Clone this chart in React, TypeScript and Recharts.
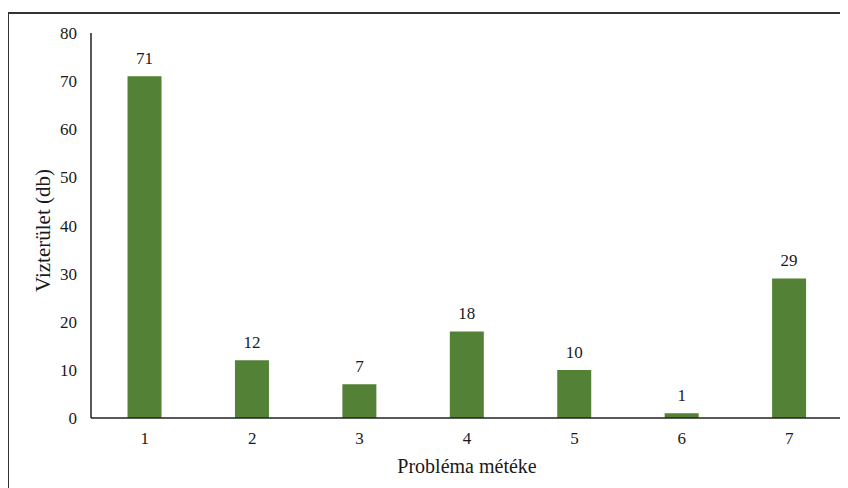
import React from 'react';
import { BarChart, Bar, XAxis, YAxis, LabelList, Label } from 'recharts';

const categories = ['1', '2', '3', '4', '5', '6', '7'];
const counts = [71, 12, 7, 18, 10, 1, 29];
const yTicks = [0, 10, 20, 30, 40, 50, 60, 70, 80];
const xTitle = 'Probléma météke';
const yTitle = 'Vizterület (db)';

const data = categories.map((c, i) => ({ name: c, value: counts[i] }));

const FONT = 'Liberation Serif, Tinos, DejaVu Serif, Times New Roman, serif';
const TEXT = '#1a1a1a';

const YTitle = (props: any) => {
  const vb = props.viewBox;
  const x = vb.x + 12;
  const y = vb.y + vb.height / 2 + 5;
  return (
    <text x={x} y={y} transform={`rotate(-90, ${x}, ${y})`} textAnchor="middle" dominantBaseline="central"
      style={{ fontFamily: FONT, fontSize: 21 }} fill={TEXT}>{yTitle}</text>
  );
};

const XTitle = (props: any) => {
  const vb = props.viewBox;
  const x = vb.x + vb.width / 2;
  const y = vb.y + 55;
  return (
    <text x={x} y={y} textAnchor="middle" style={{ fontFamily: FONT, fontSize: 20 }} fill={TEXT}>{xTitle}</text>
  );
};

export default function App() {
  return (
    <div style={{ position: 'relative', width: 840, height: 480, fontFamily: FONT }}>
      <div style={{ position: 'absolute', left: -1, top: 4, right: -8, bottom: -8, borderTop: '2px solid #333', borderLeft: '2px solid #333' }} />
      <BarChart width={840} height={480} data={data} margin={{ top: 25, right: 5, bottom: 10, left: 23 }} barCategoryGap="34%" style={{ fontFamily: FONT }}>
        <XAxis dataKey="name" axisLine={{ stroke: '#222', strokeWidth: 1.5 }} tickLine={false} tickMargin={8}
          tick={{ fontSize: 17, fill: TEXT, style: { fontFamily: FONT } }} height={60} interval={0}>
          <Label content={XTitle} />
        </XAxis>
        <YAxis domain={[0, 80]} ticks={yTicks} axisLine={{ stroke: '#222', strokeWidth: 1.5 }} tickLine={false}
          tickMargin={8} tick={{ fontSize: 17, fill: TEXT, style: { fontFamily: FONT } }} width={60} interval={0}>
          <Label content={YTitle} />
        </YAxis>
        <Bar dataKey="value" fill="#538135" isAnimationActive={false}>
          <LabelList dataKey="value" position="top" offset={12} fontSize={17} fill={TEXT} style={{ fontFamily: FONT }} />
        </Bar>
      </BarChart>
    </div>
  );
}
